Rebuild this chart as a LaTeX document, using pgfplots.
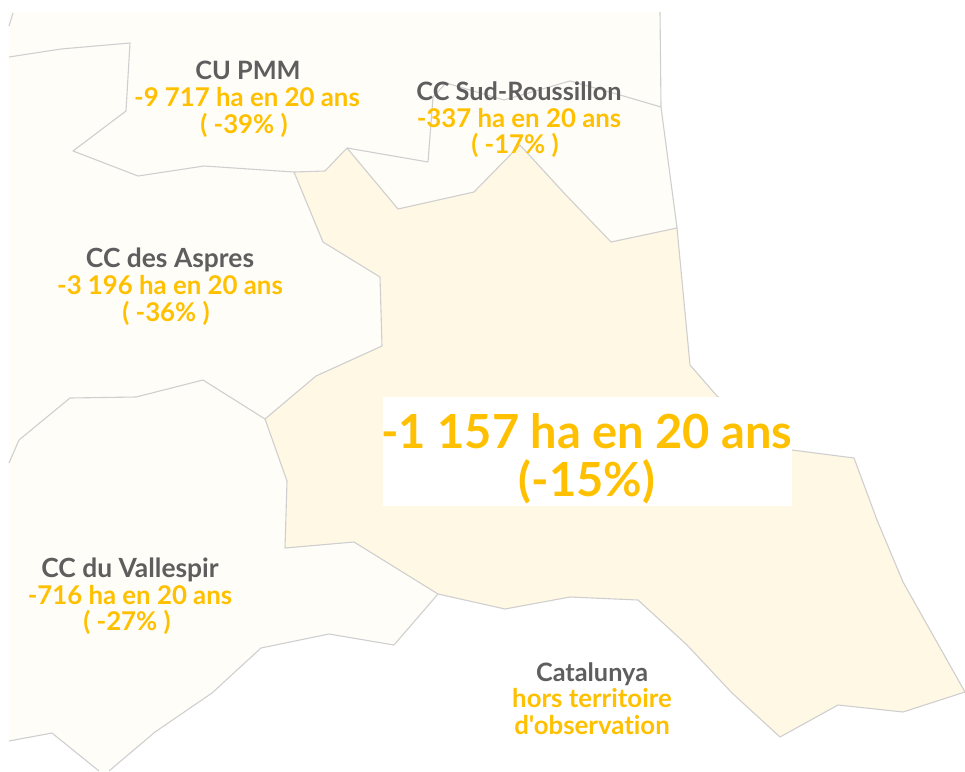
\documentclass[border=0pt]{standalone}
\usepackage{pgfplots}
\pgfplotsset{compat=1.18}
\usepackage{fontspec}
\newfontfamily\lato{Lato}[Ligatures=NoCommon]
\definecolor{terr}{HTML}{FFFDF8}
\definecolor{epci}{HTML}{FFF8E4}
\definecolor{trait}{HTML}{CFCFCF}
\definecolor{gris}{HTML}{5E5E5E}
\definecolor{jaune}{HTML}{FFC000}
\newcommand{\nomf}{\lato\fontsize{25.3}{27}\selectfont\bfseries\color{gris}}
\newcommand{\nomg}{\lato\fontsize{26.4}{28}\selectfont\bfseries\color{gris}}
\newcommand{\valf}{\lato\fontsize{25.8}{27}\selectfont\bfseries\color{jaune}}
\newcommand{\bigf}{\lato\fontsize{47}{49}\selectfont\bfseries\color{jaune}}
\begin{document}
\begin{tikzpicture}
\path[use as bounding box] (0,0) rectangle (965pt,771pt);
\begin{axis}[
  at={(0,0)}, anchor=south west,
  scale only axis, width=965pt, height=771pt,
  xmin=0, xmax=965, ymin=0, ymax=771, y dir=reverse,
  hide axis, clip=true,
  every axis plot/.append style={line join=round},
]
% whole territory
\addplot[fill=terr,draw=none] coordinates {
  (9,12) (660,12) (661,107) (677,228) (690,365) (717,396) (792,450)
  (438,594) (394,645) (329,634) (261,648) (212,693) (155,732) (109,771)
  (99,771) (52,733) (9,741)} --cycle;
% central EPCI
\addplot[fill=epci,draw=trait,line width=1.1pt] coordinates {
  (294,172) (325,171) (347,148) (398,209) (474,192) (520,145) (564,193)
  (611,242) (677,228) (690,365) (717,396) (792,450) (854,458) (877,520)
  (903,582) (965,692) (903,712) (838,705) (780,737) (732,693) (687,645)
  (638,600) (570,597) (505,609) (438,594) (354,542) (285,548) (287,481)
  (265,419) (316,376) (382,346) (380,277) (323,242)} --cycle;
% other boundaries
\addplot[draw=trait,line width=1.1pt] coordinates {
  (9,57) (61,49) (130,43) (126,111) (73,151) (138,176) (204,166) (294,172)};
\addplot[draw=trait,line width=1.1pt] coordinates {
  (347,148) (428,162) (433,97) (446,83) (504,100) (570,81) (620,95) (661,107)};
\addplot[draw=trait,line width=1.1pt] coordinates {(660,12) (661,107) (677,228)};
\addplot[draw=trait,line width=1.1pt] coordinates {(13,13) (9,26)};
\addplot[draw=trait,line width=1.1pt] coordinates {
  (9,463) (19,440) (70,398) (136,397) (203,380) (265,419)};
\addplot[draw=trait,line width=1.1pt] coordinates {
  (438,594) (394,645) (329,634) (261,648) (212,693) (155,732) (109,771)};
\addplot[draw=trait,line width=1.1pt] coordinates {(99,771) (52,733) (9,741)};
% white box
\addplot[fill=white,draw=none] coordinates {(383,397) (792,397) (792,506) (383,506)} --cycle;
% labels
\node[anchor=base,inner sep=0pt,font=\nomf] at (axis cs:248,79) {CU PMM};
\node[anchor=base,inner sep=0pt,font=\valf] at (axis cs:247,106) {-9 717 ha en 20 ans};
\node[anchor=base,inner sep=0pt,font=\valf] at (axis cs:244,133) {( -39\% )};
\node[anchor=base,inner sep=0pt,font=\nomf] at (axis cs:519,100) {CC Sud-Roussillon};
\node[anchor=base,inner sep=0pt,font=\valf] at (axis cs:519,127) {-337 ha en 20 ans};
\node[anchor=base,inner sep=0pt,font=\valf] at (axis cs:515,153) {( -17\% )};
\node[anchor=base,inner sep=0pt,font=\nomg] at (axis cs:170,267) {CC des Aspres};
\node[anchor=base,inner sep=0pt,font=\valf] at (axis cs:170,294) {-3 196 ha en 20 ans};
\node[anchor=base,inner sep=0pt,font=\valf] at (axis cs:166,321) {( -36\% )};
\node[anchor=base,inner sep=0pt,font=\nomg] at (axis cs:130,577) {CC du Vallespir};
\node[anchor=base,inner sep=0pt,font=\valf] at (axis cs:130,604) {-716 ha en 20 ans};
\node[anchor=base,inner sep=0pt,font=\valf] at (axis cs:127,630) {( -27\% )};
\node[anchor=base,inner sep=0pt,font=\nomf] at (axis cs:592,681) {Catalunya};
\node[anchor=base,inner sep=0pt,font=\valf] at (axis cs:592,707) {hors territoire};
\node[anchor=base,inner sep=0pt,font=\valf] at (axis cs:592,734) {d'observation};
\node[anchor=base,inner sep=0pt,font=\bigf] at (axis cs:587,448) {-1 157 ha en 20 ans};
\node[anchor=base,inner sep=0pt,font=\bigf] at (axis cs:587,496) {(-15\%)};
\end{axis}
\end{tikzpicture}
\end{document}
